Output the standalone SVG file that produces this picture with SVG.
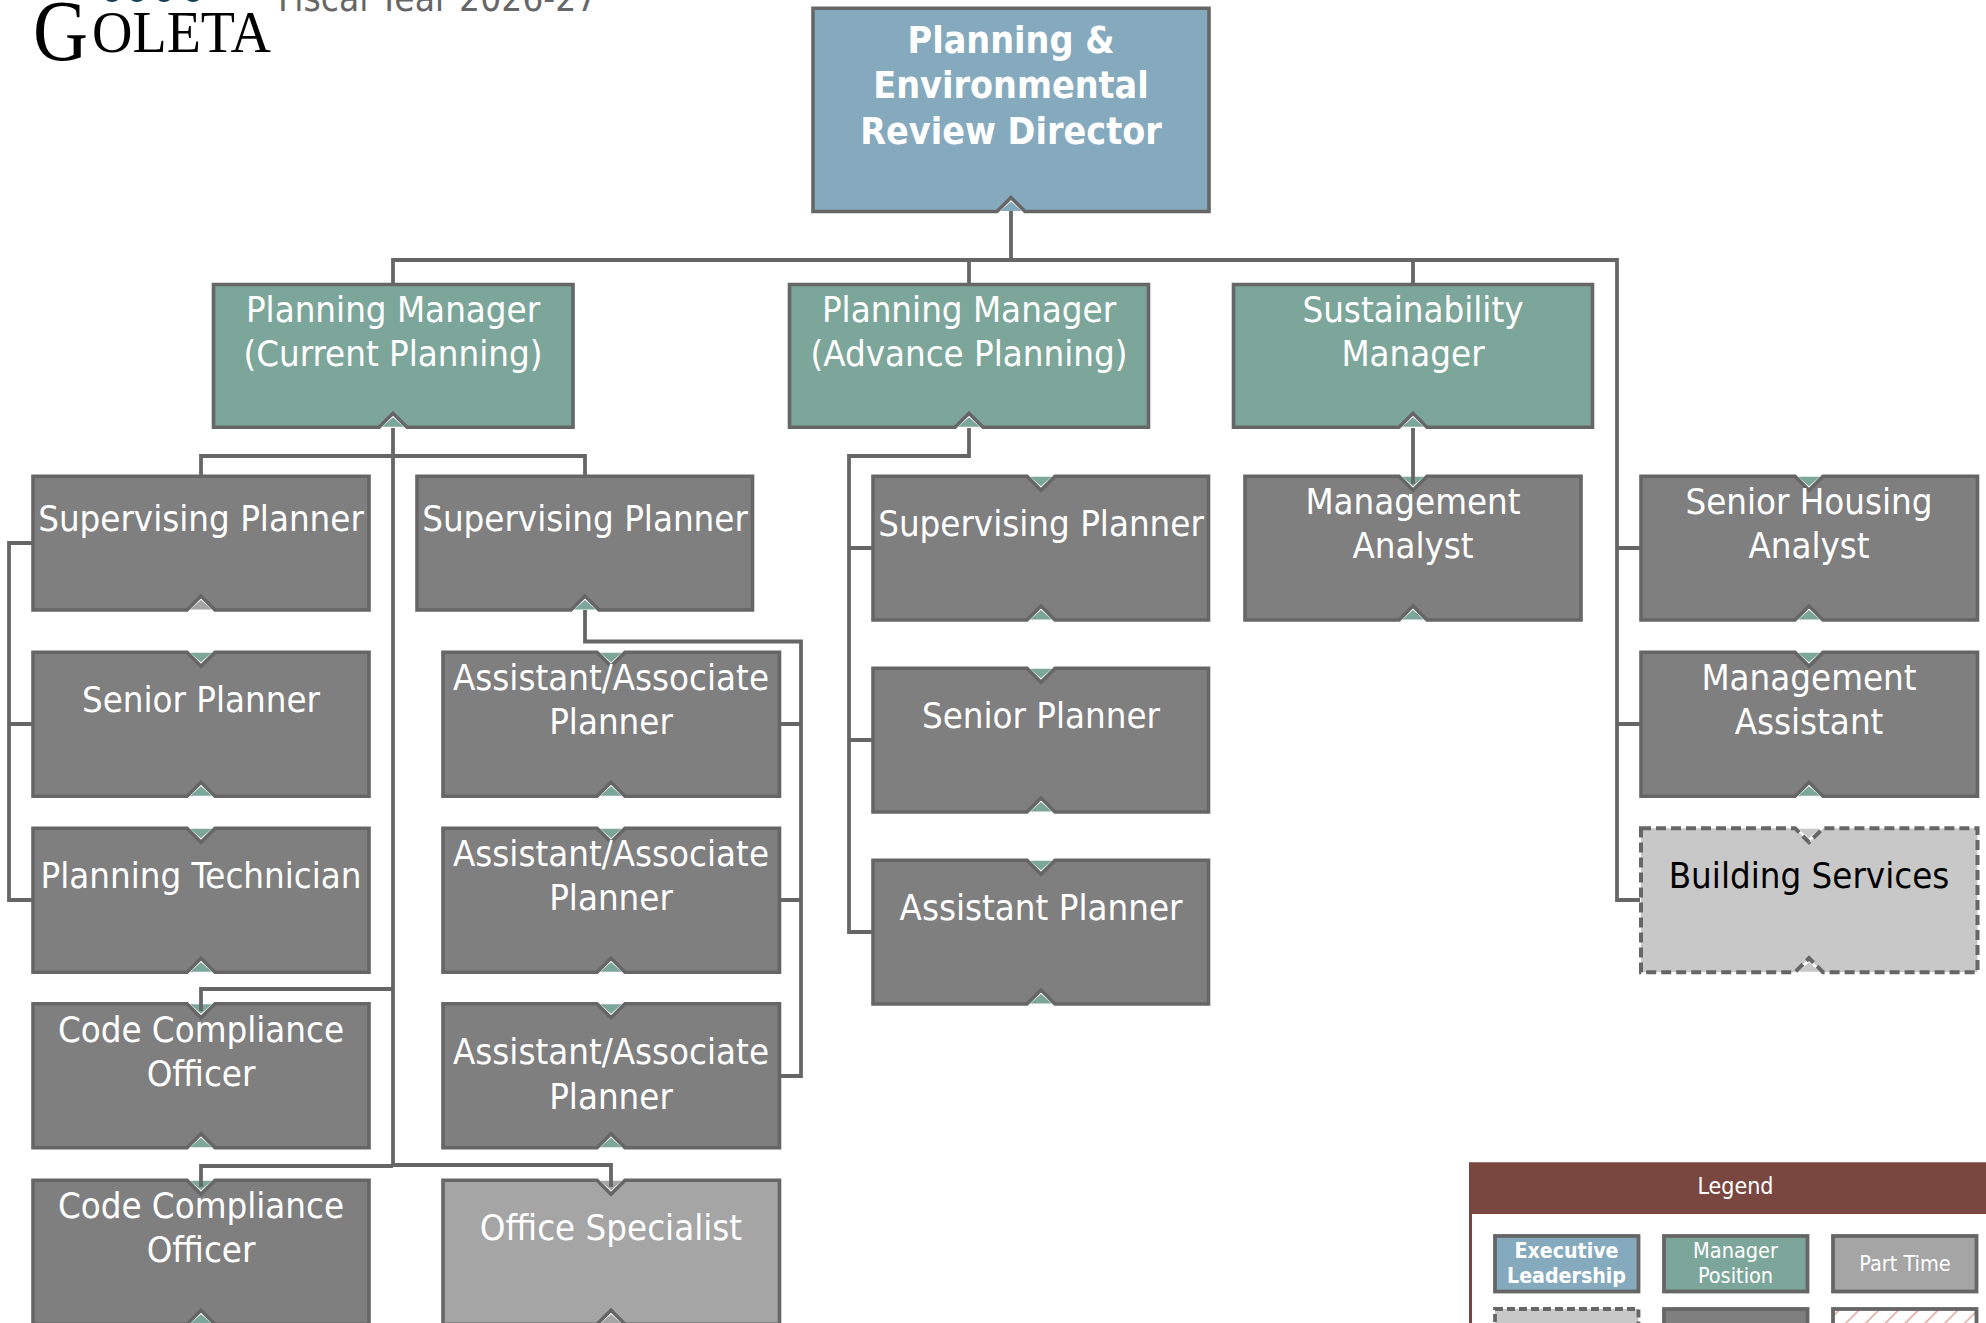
<svg xmlns="http://www.w3.org/2000/svg" width="1986" height="1323" viewBox="0 0 1986 1323">
<style>
text{font-family:"DejaVu Sans",sans-serif;font-stretch:condensed;text-anchor:middle;fill:#fff}
.n{font-size:36.3px}
.b{font-size:37.300px;font-weight:700}
.l{font-size:21.500px}
.lb{font-size:21.200px;font-weight:700}
.box{stroke:#666;stroke-width:3.600;stroke-linejoin:miter}
.gray{fill:#7f7f7f}.green{fill:#7da69b}.blue{fill:#86aabd}.part{fill:#a5a5a5}.lt{fill:#c8c8c8}
.dash{stroke-dasharray:10 5;stroke-width:4}
.lg{stroke:#666;stroke-width:3.800}
#connectors path{fill:none;stroke:#666;stroke-width:3.800}
</style>
<defs>
<polygon id="td" points="-10.8,0.5 10.8,0.5 0,10"/>
<polygon id="tu" points="-10.8,-0.5 10.8,-0.5 0,-10"/>
<pattern id="hatch" width="14" height="14" patternUnits="userSpaceOnUse" patternTransform="rotate(45)"><rect width="14" height="14" fill="#fff"/><rect width="1.6" height="14" fill="#e0a79f"/></pattern>
<clipPath id="dots"><rect x="90" y="0" width="130" height="10"/></clipPath>
</defs>
<rect width="1986" height="1323" fill="#fff"/>
<g id="logo">
<g clip-path="url(#dots)" fill="#123f52"><circle cx="112" cy="-8" r="10"/><circle cx="137" cy="-8" r="10"/><circle cx="164" cy="-8" r="10"/><circle cx="193" cy="-8" r="10"/></g>
<text x="33" y="60" style="font-family:'Liberation Serif',serif;font-size:86px;fill:#000;text-anchor:start;font-stretch:normal" textLength="55" lengthAdjust="spacingAndGlyphs">G</text>
<text x="92" y="52" style="font-family:'Liberation Serif',serif;font-size:60px;fill:#000;text-anchor:start;font-stretch:normal" textLength="179" lengthAdjust="spacingAndGlyphs">OLETA</text>
</g>
<text x="278" y="10.5" style="font-size:36.800px;fill:#666;text-anchor:start">Fiscal Year 2026-27</text>

<g id="director"><path class="box blue" d="M813 8.2H1209V211.5H1025L1011 197.500L997 211.500H813Z"/><use href="#tu" x="1011" y="211.500" class="blue"/><text class="b" x="1011" y="53">Planning &amp;</text><text class="b" x="1011" y="98">Environmental</text><text class="b" x="1011" y="144">Review Director</text></g>

<g id="mgr-current"><path class="box green" d="M213.5 284.500H573V427.200H407L393 413.200L379 427.200H213.500Z"/><use href="#tu" x="393" y="427.200" class="green"/><text class="n" x="393" y="321.500">Planning Manager</text><text class="n" x="393" y="365.800">(Current Planning)</text></g>
<g id="mgr-advance"><path class="box green" d="M789.5 284.500H1148.500V427.200H983L969 413.200L955 427.200H789.500Z"/><use href="#tu" x="969" y="427.200" class="green"/><text class="n" x="969" y="321.500">Planning Manager</text><text class="n" x="969" y="365.800">(Advance Planning)</text></g>
<g id="mgr-sust"><path class="box green" d="M1233.5 284.500H1592.500V427.200H1427L1413 413.200L1399 427.200H1233.500Z"/><use href="#tu" x="1413" y="427.200" class="green"/><text class="n" x="1413" y="321.500">Sustainability</text><text class="n" x="1413" y="365.800">Manager</text></g>

<g id="sup1"><path class="box gray" d="M33 476.200H369V610H215L201 596L187 610H33Z"/><use href="#tu" x="201" y="610" class="part"/><text class="n" x="201" y="530.800">Supervising Planner</text></g>
<g id="senior1"><path class="box gray" d="M33 652.200H187L201 666.200L215 652.200H369V796.200H215L201 782.200L187 796.200H33Z"/><use href="#td" x="201" y="652.200" class="green"/><use href="#tu" x="201" y="796.200" class="green"/><text class="n" x="201" y="712">Senior Planner</text></g>
<g id="tech"><path class="box gray" d="M33 828.200H187L201 842.200L215 828.200H369V972.200H215L201 958.200L187 972.200H33Z"/><use href="#td" x="201" y="828.200" class="green"/><use href="#tu" x="201" y="972.200" class="green"/><text class="n" x="201" y="888">Planning Technician</text></g>
<g id="code1"><path class="box gray" d="M33 1003.800H187L201 1017.800L215 1003.800H369V1147.800H215L201 1133.800L187 1147.800H33Z"/><use href="#td" x="201" y="1003.800" class="green"/><use href="#tu" x="201" y="1147.800" class="green"/><text class="n" x="201" y="1042">Code Compliance</text><text class="n" x="201" y="1086">Officer</text></g>
<g id="code2"><path class="box gray" d="M33 1180.200H187L201 1194.200L215 1180.200H369V1324.200H215L201 1310.200L187 1324.200H33Z"/><use href="#td" x="201" y="1180.200" class="green"/><use href="#tu" x="201" y="1324.200" class="green"/><text class="n" x="201" y="1218">Code Compliance</text><text class="n" x="201" y="1262">Officer</text></g>

<g id="sup2"><path class="box gray" d="M417 476.200H752.500V610H599L585 596L571 610H417Z"/><use href="#tu" x="585" y="610" class="green"/><text class="n" x="585" y="530.800">Supervising Planner</text></g>
<g id="assoc1"><path class="box gray" d="M443 652.200H597L611 666.200L625 652.200H779.500V796.200H625L611 782.200L597 796.200H443Z"/><use href="#td" x="611" y="652.200" class="green"/><use href="#tu" x="611" y="796.200" class="green"/><text class="n" x="611" y="690">Assistant/Associate</text><text class="n" x="611" y="734">Planner</text></g>
<g id="assoc2"><path class="box gray" d="M443 828.200H597L611 842.200L625 828.200H779.500V972.200H625L611 958.200L597 972.200H443Z"/><use href="#td" x="611" y="828.200" class="green"/><use href="#tu" x="611" y="972.200" class="green"/><text class="n" x="611" y="866">Assistant/Associate</text><text class="n" x="611" y="910">Planner</text></g>
<g id="assoc3"><path class="box gray" d="M443 1003.800H597L611 1017.800L625 1003.800H779.500V1147.800H625L611 1133.800L597 1147.800H443Z"/><use href="#td" x="611" y="1003.800" class="green"/><use href="#tu" x="611" y="1147.800" class="green"/><text class="n" x="611" y="1064">Assistant/Associate</text><text class="n" x="611" y="1109">Planner</text></g>
<g id="office"><path class="box part" d="M443 1180.200H597L611 1194.200L625 1180.200H779.500V1324.200H625L611 1310.200L597 1324.200H443Z"/><use href="#td" x="611" y="1180.200" class="part"/><use href="#tu" x="611" y="1324.200" class="part"/><text class="n" x="611" y="1240">Office Specialist</text></g>

<g id="sup3"><path class="box gray" d="M873 476.200H1027L1041 490.200L1055 476.200H1208.500V620H1055L1041 606L1027 620H873Z"/><use href="#td" x="1041" y="476.200" class="green"/><use href="#tu" x="1041" y="620" class="green"/><text class="n" x="1041" y="535.800">Supervising Planner</text></g>
<g id="senior2"><path class="box gray" d="M873 668.200H1027L1041 682.200L1055 668.200H1208.500V812H1055L1041 798L1027 812H873Z"/><use href="#td" x="1041" y="668.200" class="green"/><use href="#tu" x="1041" y="812" class="green"/><text class="n" x="1041" y="728">Senior Planner</text></g>
<g id="assistant"><path class="box gray" d="M873 860.200H1027L1041 874.200L1055 860.200H1208.500V1004H1055L1041 990L1027 1004H873Z"/><use href="#td" x="1041" y="860.200" class="green"/><use href="#tu" x="1041" y="1004" class="green"/><text class="n" x="1041" y="920">Assistant Planner</text></g>

<g id="analyst"><path class="box gray" d="M1245 476.200H1399L1413 490.200L1427 476.200H1581V620H1427L1413 606L1399 620H1245Z"/><use href="#td" x="1413" y="476.200" class="green"/><use href="#tu" x="1413" y="620" class="green"/><text class="n" x="1413" y="514">Management</text><text class="n" x="1413" y="558">Analyst</text></g>
<g id="housing"><path class="box gray" d="M1641 476.200H1795L1809 490.200L1823 476.200H1977.500V620H1823L1809 606L1795 620H1641Z"/><use href="#td" x="1809" y="476.200" class="green"/><use href="#tu" x="1809" y="620" class="green"/><text class="n" x="1809" y="514">Senior Housing</text><text class="n" x="1809" y="558">Analyst</text></g>
<g id="mgmt-asst"><path class="box gray" d="M1641 652.200H1795L1809 666.200L1823 652.200H1977.500V796.200H1823L1809 782.200L1795 796.200H1641Z"/><use href="#td" x="1809" y="652.200" class="green"/><use href="#tu" x="1809" y="796.200" class="green"/><text class="n" x="1809" y="690">Management</text><text class="n" x="1809" y="734">Assistant</text></g>
<g id="building"><path class="box lt dash" d="M1641 828.200H1795L1809 842.200L1823 828.200H1977.500V972.200H1823L1809 958.200L1795 972.200H1641Z"/><use href="#td" x="1809" y="828.200" class="lt"/><use href="#tu" x="1809" y="972.200" class="lt"/><text class="n" x="1809" y="888" style="fill:#000">Building Services</text></g>

<g id="connectors">
<path d="M1011 211V260"/>
<path d="M393 283V260H1617V900H1640"/>
<path d="M969 260V283"/>
<path d="M1413 260V283"/>
<path d="M1617 548H1640M1617 724H1640"/>
<path d="M393 428V1166"/>
<path d="M201 475V456H585V475"/>
<path d="M393 989H201V1011"/>
<path d="M393 1166H201V1187"/>
<path d="M393 1165H611V1187"/>
<path d="M32 543H9V900H32M9 724H32"/>
<path d="M585 610V641.500H801V1076H781M781 724H801M781 900H801"/>
<path d="M969 428V456H849V932H872M849 548H872M849 740H872"/>
<path d="M1413 428V484"/>
</g>

<g id="legend">
<rect x="1470.500" y="1164" width="540" height="200" fill="#fff" stroke="#79473f" stroke-width="3"/>
<rect x="1469" y="1162.500" width="540" height="51.500" fill="#79473f"/>
<text x="1735.500" y="1194" style="font-size:23px">Legend</text>
<g id="lg-exec"><rect class="lg blue" x="1495" y="1236" width="143.500" height="55.500"/><text class="lb" x="1566.500" y="1258">Executive</text><text class="lb" x="1566.500" y="1283">Leadership</text></g>
<g id="lg-mgr"><rect class="lg green" x="1664" y="1236" width="143.500" height="55.500"/><text class="l" x="1735.500" y="1258">Manager</text><text class="l" x="1735.500" y="1283">Position</text></g>
<g id="lg-part"><rect class="lg part" x="1833" y="1236" width="143.500" height="55.500"/><text class="l" x="1905" y="1271">Part Time</text></g>
<g id="lg-dash"><rect class="lg lt" x="1495" y="1309" width="143.500" height="55" stroke-dasharray="8 4"/></g>
<g id="lg-gray"><rect class="lg gray" x="1664" y="1309" width="143.500" height="55"/></g>
<g id="lg-hatch"><rect class="lg" x="1833" y="1309" width="143.500" height="55" fill="url(#hatch)"/></g>
</g>
</svg>
